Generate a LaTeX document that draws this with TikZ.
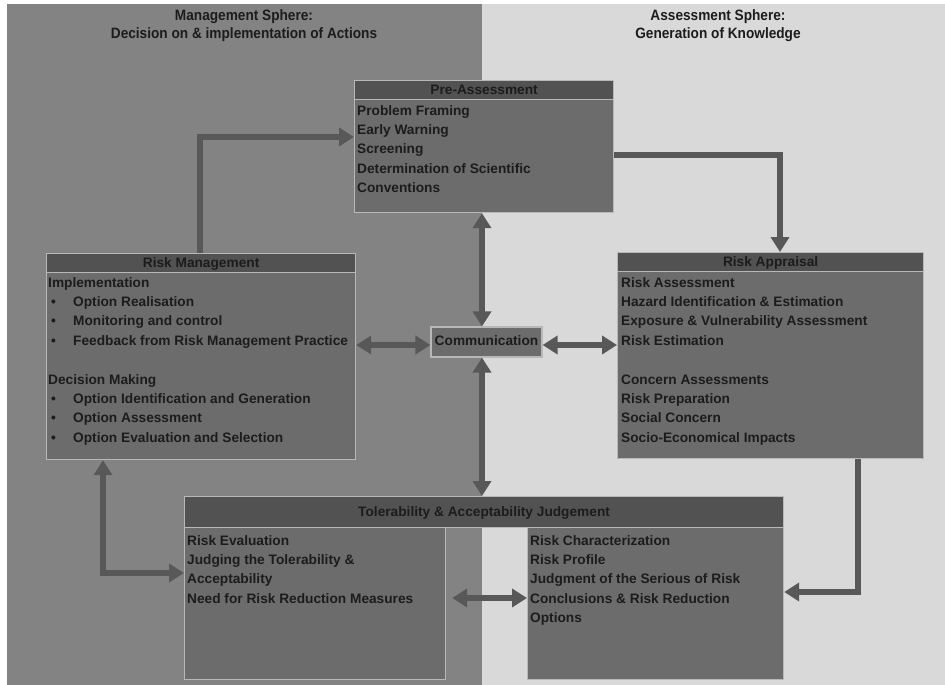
\documentclass[tikz,border=0pt]{standalone}
\usepackage{fontspec}
\setmainfont{Liberation Sans}
\newfontfamily\titlefont{Liberation Sans}[FakeStretch=0.91]
\usetikzlibrary{arrows.meta}

\definecolor{mgmtbg}{HTML}{838383}
\definecolor{assessbg}{HTML}{D9D9D9}
\definecolor{boxfill}{HTML}{6C6C6C}
\definecolor{headfill}{HTML}{525252}
\definecolor{boxline}{HTML}{B8B8B8}
\definecolor{ink}{HTML}{1C1C1C}
\definecolor{arrowgray}{HTML}{585858}

\newcommand\boxtextfont{\fontsize{13.7}{19.4}\selectfont\bfseries}
\newcommand\itemdot{\hspace*{3pt}\makebox[22pt][l]{\textbullet}}

\tikzset{
  panel/.style={draw=boxline, line width=1.2pt, fill=boxfill, inner sep=0pt,
    anchor=north west},
  header/.style={panel, fill=headfill, font=\boxtextfont, text=ink,
    text height=10pt, text depth=1pt},
  body/.style={anchor=north west, inner sep=0pt, align=left,
    font=\boxtextfont, text=ink},
  sphere/.style={anchor=north, inner sep=0pt, align=center, text=ink,
    font=\titlefont\fontsize{15}{18}\selectfont\bfseries},
  link/.style={draw=arrowgray, line width=6pt,
    >={Triangle[length=15pt,width=18pt]}},
}

\begin{document}
\begin{tikzpicture}[x=1pt,y=-1pt]
\useasboundingbox (0,0) rectangle (945,685);

% the two spheres
\fill[mgmtbg] (7,4) rectangle (482,685);
\fill[assessbg] (482,4) rectangle (945,685);

\node[sphere] (mgmt) at (244,9.5)
  {Management Sphere:\\Decision on \& implementation of Actions};
\node[sphere] (assess) at (718,9.5)
  {Assessment Sphere:\\Generation of Knowledge};

% Pre-Assessment
\node[header, minimum width=259pt, minimum height=19pt] (preh) at (354,80) {Pre-Assessment};
\node[panel, minimum width=259pt, minimum height=113pt] (pre) at (354,99) {};
\node[body] (pretext) at (357,105)
  {Problem Framing\\Early Warning\\Screening\\Determination of Scientific\\Conventions};

% Risk Management
\node[header, minimum width=309pt, minimum height=19pt] (rmh) at (46,253) {Risk Management};
\node[panel, minimum width=309pt, minimum height=187pt] (rm) at (46,272) {};
\node[body] (rmtext) at (48,277)
  {Implementation\\
   \itemdot Option Realisation\\
   \itemdot Monitoring and control\\
   \itemdot Feedback from Risk Management Practice\\[19.4pt]
   Decision Making\\
   \itemdot Option Identification and Generation\\
   \itemdot Option Assessment\\
   \itemdot Option Evaluation and Selection};

% Risk Appraisal
\node[header, minimum width=306pt, minimum height=19pt] (rah) at (617,252) {Risk Appraisal};
\node[panel, minimum width=306pt, minimum height=187pt] (ra) at (617,271) {};
\node[body] (ratext) at (621,277)
  {Risk Assessment\\Hazard Identification \& Estimation\\
   Exposure \& Vulnerability Assessment\\Risk Estimation\\[19.4pt]
   Concern Assessments\\Risk Preparation\\Social Concern\\Socio-Economical Impacts};

% Communication
\node[panel, anchor=center, minimum width=111pt, minimum height=30pt,
      font=\boxtextfont, text=ink, text height=10pt, text depth=3pt]
  (com) at (486.5,342) {Communication};

% Tolerability & Acceptability Judgement
\node[header, minimum width=599pt, minimum height=31pt] (tol) at (184,496)
  {Tolerability \& Acceptability Judgement};
\node[panel, minimum width=261pt, minimum height=152pt] (tl) at (184,527) {};
\node[panel, minimum width=256pt, minimum height=152pt] (tr) at (527,527) {};
\node[body] (tltext) at (187,535)
  {Risk Evaluation\\Judging the Tolerability \&\\Acceptability\\Need for Risk Reduction Measures};
\node[body] (trtext) at (530,535)
  {Risk Characterization\\Risk Profile\\Judgment of the Serious of Risk\\
   Conclusions \& Risk Reduction\\Options};

% bend points and connector lanes
\coordinate (c1) at (200,137);
\coordinate (c2) at (780,155);
\coordinate (c3) at (482,0);
\coordinate (c4) at (0,345);
\coordinate (c7) at (858,592);
\coordinate (c8) at (103,573);
\coordinate (c9) at (0,598);

% connectors
\draw[link,->] (rmh.north -| c1) |- (pre.west |- c1);
\draw[link,->] (pre.east |- c2) -| (rah.north -| c2);
\draw[link,<->] (pre.south -| c3) -- (com.north -| c3);
\draw[link,<->] (com.south -| c3) -- (tol.north -| c3);
\draw[link,<->] (rm.east |- c4) -- (com.west |- c4);
\draw[link,<->] (com.east |- c4) -- (ra.west |- c4);
\draw[link,->] (ra.south -| c7) |- (tr.east |- c7);
\draw[link,<->] (rm.south -| c8) |- (tl.west |- c8);
\draw[link,<->,shorten <=6pt] (tl.east |- c9) -- (tr.west |- c9);
\end{tikzpicture}
\end{document}
